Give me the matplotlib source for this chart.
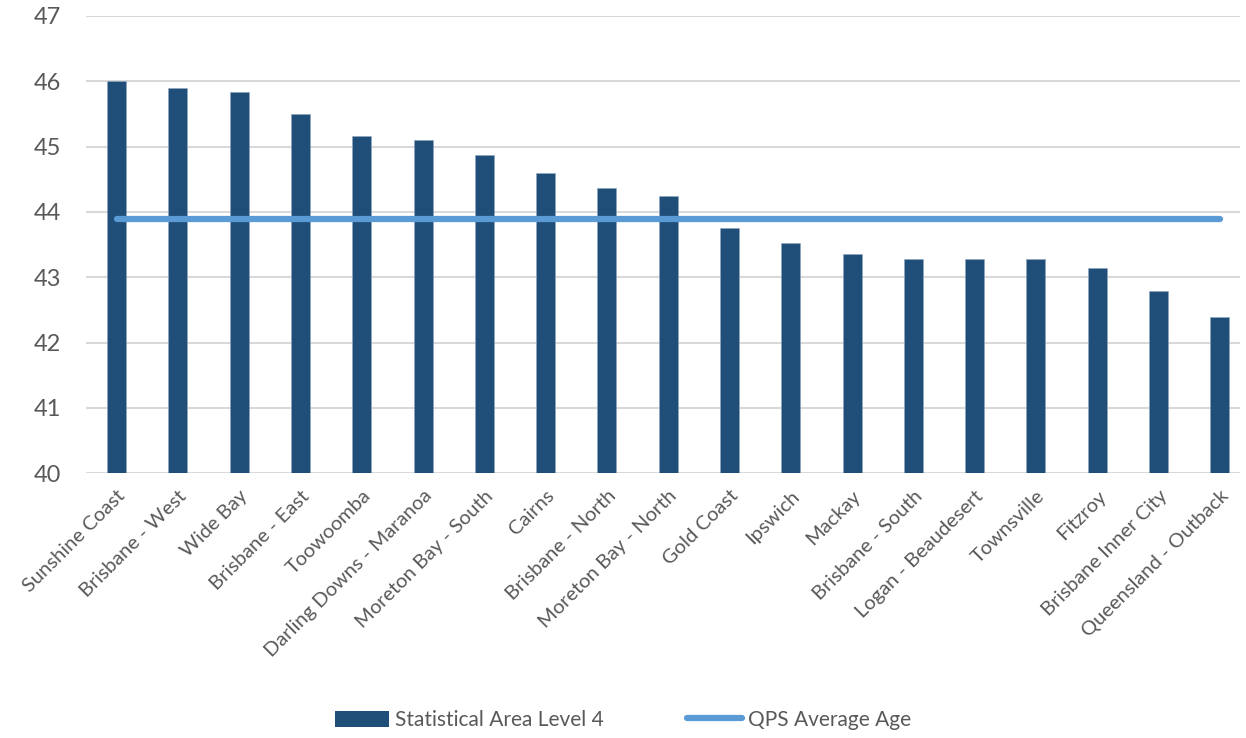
import matplotlib
matplotlib.use("Agg")
import matplotlib.pyplot as plt
from matplotlib.lines import Line2D
from matplotlib.patches import Patch

regioes = ["Sunshine Coast", "Brisbane - West", "Wide Bay", "Brisbane - East", "Toowoomba",
           "Darling Downs - Maranoa", "Moreton Bay - South", "Cairns", "Brisbane - North",
           "Moreton Bay - North", "Gold Coast", "Ipswich", "Mackay", "Brisbane - South",
           "Logan - Beaudesert", "Townsville", "Fitzroy", "Brisbane Inner City",
           "Queensland - Outback"]
idade_sa4 = [46.0, 45.9, 45.83, 45.5, 45.17, 45.1, 44.87, 44.6, 44.37, 44.24, 43.75,
             43.52, 43.35, 43.28, 43.28, 43.28, 43.15, 42.79, 42.4]
idade_qps = 43.9

cor_barra = '#1F4E79'
cor_linha = '#5B9BD5'
cinza = '#595959'

plt.rcParams['font.family'] = ['Lato', 'DejaVu Sans']

fig = plt.figure(figsize=(12.46, 7.38), dpi=100)
ax = fig.add_axes([86 / 1246, 1 - 473.3 / 738, (1240 - 86) / 1246, (473.3 - 16) / 738])

x = list(range(len(regioes)))
ax.bar(x, [v - 40 for v in idade_sa4], bottom=40, width=0.31, color=cor_barra,
       edgecolor='#8FA6C0', linewidth=0.4, zorder=2)
ax.plot([x[0], x[-1]], [idade_qps, idade_qps], color=cor_linha, linewidth=4.5,
        solid_capstyle='round', zorder=3)

ax.set_ylim(40, 47)
ax.set_xlim(-0.5, 18.33)
ax.set_yticks(range(40, 48))
ax.tick_params(axis='y', length=0, labelsize=17, labelcolor=cinza, pad=18)
ax.set_xticks(x)
ax.set_xticklabels(regioes, rotation=45, ha='right', rotation_mode='anchor',
                   fontsize=14.5, color=cinza)
ax.tick_params(axis='x', length=0, pad=10)
ax.grid(axis='y', color='#D9D9D9', linewidth=1.5, zorder=0)
for s in ax.spines.values():
    s.set_visible(False)

handles = [Patch(facecolor=cor_barra, label='Statistical Area Level 4'),
           Line2D([0], [0], color=cor_linha, linewidth=4.5, solid_capstyle='round',
                  label='QPS Average Age')]
fig.legend(handles=handles, loc='center', bbox_to_anchor=(0.5, 1 - 720 / 738), ncol=2,
           frameon=False, fontsize=15, labelcolor=cinza, handlelength=2.6,
           handleheight=0.8, columnspacing=4.0, handletextpad=0.3)

fig.savefig('out.png', dpi=100)
